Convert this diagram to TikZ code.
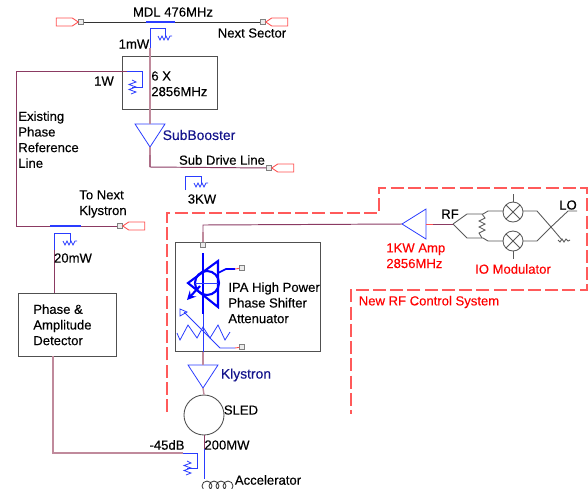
\documentclass[tikz,border=0pt]{standalone}
\usepackage{fontspec}
\setmainfont[FakeBold=0.25,AutoFakeBold=0.25]{Liberation Sans}
\usepackage{tikz}
\usetikzlibrary{calc}
\usetikzlibrary{positioning}
\definecolor{wire}{HTML}{8B3A62}
\definecolor{lightwire}{HTML}{C08A9C}
\definecolor{navytext}{HTML}{14148C}
\definecolor{portred}{HTML}{FF5050}
\definecolor{dashred}{HTML}{FF5A5A}
\definecolor{boxgray}{HTML}{505050}
\definecolor{symblue}{HTML}{2A3CFF}
\tikzset{
  lbl/.style={inner sep=0pt, align=left, font=\fontsize{7.45pt}{8.9pt}\selectfont\bfseries, text=black},
  redlbl/.style={lbl, text=red},
  navylbl/.style={lbl, text=navytext, font=\fontsize{7.9pt}{8.9pt}\selectfont\bfseries},
  blockbox/.style={draw=boxgray, line width=0.55pt, fill=none},
  wireline/.style={draw=wire, line width=0.55pt},
  paleline/.style={draw=lightwire, line width=0.8pt},
  blueline/.style={draw=symblue, line width=0.45pt},
  redline/.style={draw=dashred, line width=0.7pt, dash pattern=on 7.4pt off 2.4pt},
  portsq/.style={draw=gray, fill=gray!15, line width=0.35pt, minimum size=2.8pt, inner sep=0pt},
  portline/.style={draw=portred, line width=0.5pt},
  grayline/.style={draw=black!65, line width=0.5pt},
  amp/.pic={
    \draw[blueline] (-15,0) -- (15,0) -- (0,23) -- cycle;
  },
  resh/.pic={
    \draw[blueline] (-7,-1) -- (-5,3) -- (-3,-1) -- (-1,3) -- (1,-1) -- (3,3) -- (5,-1) -- (7,-1);
  },
  resv/.pic={
    \draw[blueline] (0,-7) -- (4,-5) -- (-3,-2.5) -- (4,0) -- (-3,2.5) -- (4,5) -- (-1,7);
  },
  portright/.pic={
    \draw[portline] (0,0) -- (6,-4) -- (22,-4) -- (22,4) -- (6,4) -- cycle;
  },
  portleft/.pic={
    \draw[portline] (0,0) -- (-6,-4) -- (-22,-4) -- (-22,4) -- (-6,4) -- cycle;
  },
  mixer/.pic={
    \draw[grayline, fill=white] (0,0) circle (10);
    \draw[grayline] (-7,-7) -- (7,7) (-7,7) -- (7,-7);
  },
}
\begin{document}
\begin{tikzpicture}[x=0.02cm, y=-0.02cm]
  \useasboundingbox (0,0) rectangle (588,488);
  % DASHED CONTROL SYSTEM OUTLINE
  \draw[redline] (167,412) -- (167,213) -- (379,213) -- (379,188) -- (587,188) -- (587,290) -- (351,290) -- (351,414);
  % BLOCKS
  \node[blockbox, minimum width=1.9cm, minimum height=1.06cm, anchor=north west] (mult) at (122,56) {};
  \node[blockbox, minimum width=2.9cm, minimum height=2.18cm, anchor=north west] (ipa) at (175,242) {};
  \node[blockbox, minimum width=1.96cm, minimum height=1.26cm, anchor=north west] (det) at (18,293) {};
  \node[draw=boxgray, circle, line width=0.5pt, minimum size=0.8cm, inner sep=0pt] (sled) at (204,415) {};
  % PORTS
  \node[portsq] (mdlin) at (81,22) {};
  \node[portsq] (mdlout) at (263,22) {};
  \node[portsq] (subout) at (269,168) {};
  \node[portsq] (nextk) at (120,226) {};
  \node[portsq] (ipain) at (203,245) {};
  \node[portsq] (phport) at (242,268) {};
  \node[portsq] (attport) at (242,347) {};
  \pic at (mdlin.west) {portleft};
  \pic at (mdlout.east) {portright};
  \pic at (subout.east) {portright};
  \pic at (nextk.east) {portright};
  % AMPLIFIERS
  \pic at (150,124) {amp};
  \pic at (203,365) {amp};
  \coordinate (subtop) at (150,124);
  \coordinate (subtip) at (150,147);
  \coordinate (klytop) at (203,365);
  \coordinate (klytip) at (203,388);
  \coordinate (amptip) at (402,224);
  \coordinate (ampback) at (426,224);
  \draw[blueline] (amptip) -- (426,209) -- (426,239) -- cycle;
  % MDL LINE AND SUB DRIVE
  \draw[black!80, line width=0.5pt] (mdlin) -- (mdlout);
  \draw[blueline, line width=0.6pt] (146,22) -- (175,22);
  \draw[blueline] (150,50) -- (150,28) -- (165,28) -- (165,37);
  \pic at (165,37) {resh};
  \draw[paleline] (150,48) -- (subtop);
  \draw[paleline] (subtip) -- (150,167);
  \draw[wireline] (150,155) -- (150,167) -- (subout);
  \draw[blueline] (185,190) -- (185,176) -- (201,176) -- (201,184);
  \pic at (201,184) {resh};
  % PHASE REFERENCE LINE
  \draw[wireline] (127,71) -- (16,71) -- (16,226) -- (nextk);
  \draw[blueline, line width=0.6pt] (50,226) -- (81,226);
  \draw[blueline] (127,71) -- (142,71) -- (142,87) -- (132,87);
  \pic at (132,87) {resv};
  % DETECTOR BRANCH
  \draw[blueline] (54,250) -- (54,233) -- (70,233) -- (70,242);
  \pic at (70,242) {resh};
  \draw[wireline] (54,250) -- (det.north west -| 54,293);
  \draw[paleline] (53,356) -- (53,453) -- (183,453);
  \draw[blueline] (183,453) -- (197,453) -- (197,468) -- (187,468);
  \pic at (187,468) {resv};
  % FEED TO IPA AND RF AMP
  \draw[wireline] (ipain) -- (203,225) -- (amptip);
  \draw[paleline] (ipain) -- (203,232);
  \draw[portline] (ampback) -- (433,224);
  \draw[wireline] (433,224) -- (453,224);
  % PHASE SHIFTER SYMBOL
  \draw[blue, line width=1.2pt] (203,253) -- (203,314);
  \draw[blue, line width=1.2pt] (218,261) -- (218,307) -- (188,283) -- cycle;
  \draw[blue, line width=1.2pt] (207,283) circle (12);
  \draw[blueline] (195,283) -- (218,283);
  \draw[blue, line width=1.2pt, -stealth] (200,286) -- (187,300);
  \draw[blue, line width=1pt] (218,273) -- (226,269) -- (235,269);
  \draw[portline] (235,269) -- (phport);
  % ATTENUATOR SYMBOL
  \draw[blueline] (177,333) -- (180,340) -- (188,325) -- (197,338) -- (203,327) -- (210,338) -- (218,325) -- (225,340) -- (230,332);
  \draw[blueline] (235,348) -- (227,348) -- (220,348) -- (184,312);
  \draw[blueline] (180,309) -- (187,312) -- (180,316) -- cycle;
  \draw[portline] (235,348) -- (attport);
  \draw[blueline] (203,314) -- (klytop);
  \draw[paleline] (203,352) -- (klytop);
  % SLED AND ACCELERATOR
  \draw[paleline] (klytip) -- (sled.north);
  \draw[wireline] (sled.south) -- (204,449);
  \draw[blueline] (204,449) -- (204,479);
  \draw[black!80, line width=0.45pt] (207,486) circle (5) (214,486) circle (5) (221,486) circle (5) (228,486) circle (5);
  % IQ MODULATOR
  \pic at (513,212) {mixer};
  \pic at (513,241) {mixer};
  \coordinate (fork) at (453,224);
  \coordinate (join) at (551,227);
  \draw[grayline] (fork) -- (467,214) -- (483,214) -- (488,211) -- (503,211);
  \draw[grayline] (fork) -- (467,238) -- (483,238) -- (488,241) -- (503,241);
  \draw[grayline] (523,211) -- (537,211) -- (join) -- (537,241) -- (523,241);
  \draw[grayline] (join) -- (568,211) -- (577,211);
  \draw[grayline] (join) -- (562,240);
  \draw[grayline] (558,240) -- (560,242) -- (562,239) -- (564,242) -- (566,239) -- (568,241) -- (570,240);
  \draw[grayline] (513,194) -- (513,202) (513,251) -- (513,259);
  \draw[grayline] (482,214) -- (485,218) -- (479,221) -- (485,224) -- (479,227) -- (485,230) -- (479,233) -- (482,238);
  % LABELS
  \node[lbl] (mdllbl) at (173,12) {MDL 476MHz};
  \node[lbl] (nextlbl) at (252,33) {Next Sector};
  \node[lbl] (onemw) at (134,44) {1mW};
  \node[lbl] (onew) at (104,81) {1W};
  \node[lbl, anchor=north west] (sixlbl) at (151,71) {6 X\\2856MHz};
  \node[lbl, anchor=north west] (reflbl) at (18,111) {Existing\\Phase\\Reference\\Line};
  \node[navylbl] (sublbl) at (199,135) {SubBooster};
  \node[lbl] (sdlbl) at (222,160) {Sub Drive Line};
  \node[lbl] (threekw) at (202,199) {3KW};
  \node[lbl, anchor=north west] (tonext) at (79,190) {To Next\\Klystron};
  \node[lbl] (twentymw) at (73,258) {20mW};
  \node[lbl, anchor=north west] (detlbl) at (33,304) {Phase \&\\Amplitude\\Detector};
  \node[lbl, anchor=north west] (ipalbl) at (228,282) {IPA High Power\\Phase Shifter\\Attenuator};
  \node[navylbl] (klylbl) at (246,375) {Klystron};
  \node[lbl] (sledlbl) at (241,410) {SLED};
  \node[lbl] (dblbl) at (167,445) {-45dB};
  \node[lbl] (mwlbl) at (227,445) {200MW};
  \node[lbl] (acclbl) at (268,480) {Accelerator};
  \node[lbl] (rflbl) at (450,214) {RF};
  \node[lbl] (lolbl) at (568,205) {LO};
  \node[redlbl, anchor=north west] (amplbl) at (386,243) {1KW Amp\\2856MHz};
  \node[redlbl] (iolbl) at (513,269) {IO Modulator};
  \node[redlbl] (newlbl) at (429,302) {New RF Control System};
\end{tikzpicture}
\end{document}
